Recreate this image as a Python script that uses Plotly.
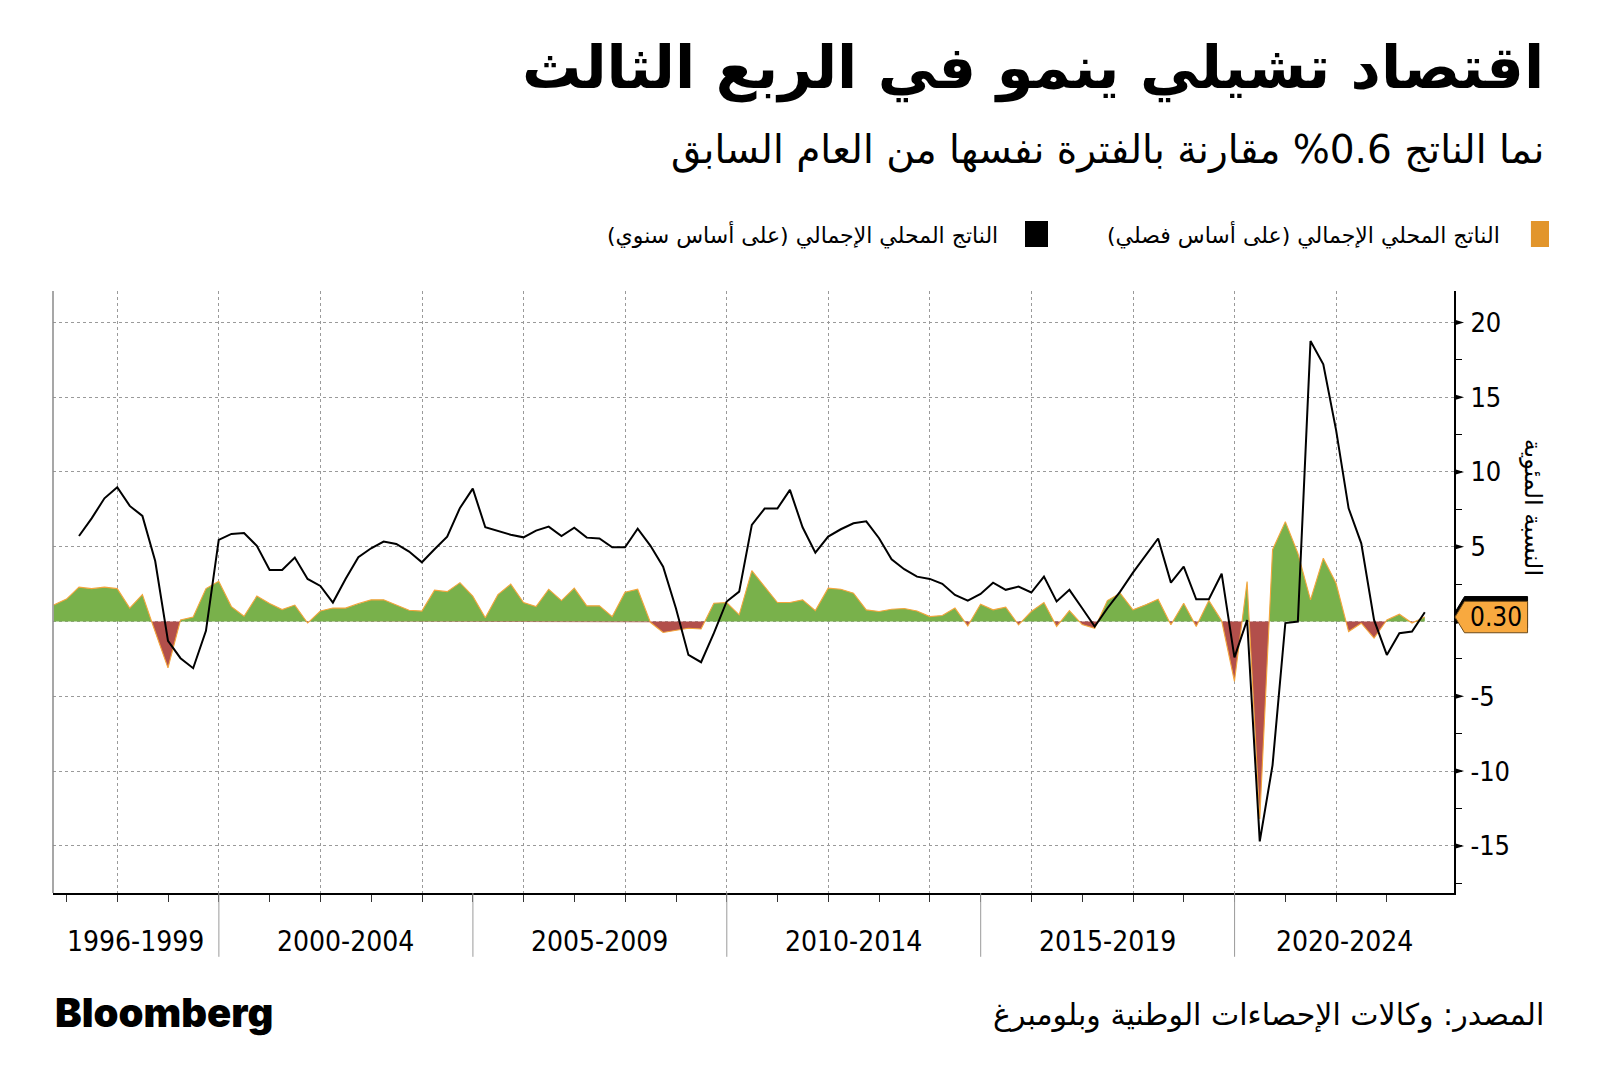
import numpy as np
import pandas as pd
import plotly.graph_objects as go

# ---------------- data ----------------
quarters = pd.period_range("1996Q3", "2023Q3", freq="Q")

qoq = [1.1, 1.5, 2.3, 2.2, 2.3, 2.2, 0.9, 1.8, -0.7, -3.1,
       0.1, 0.3, 2.2, 2.7, 1.0, 0.35, 1.7, 1.2, 0.8, 1.1,
       -0.1, 0.7, 0.9, 0.9, 1.2, 1.45, 1.45, 1.1, 0.75, 0.7,
       2.1, 2.0, 2.6, 1.7, 0.25, 1.8, 2.5, 1.27, 1.0, 2.16,
       1.4, 2.23, 1.05, 1.05, 0.33, 1.96, 2.16, -0.05, -0.73, -0.6,
       -0.45, -0.5, 1.22, 1.27, 0.45, 3.4, 2.34, 1.27, 1.27, 1.45,
       0.73, 2.23, 2.16, 1.9, 0.78, 0.67, 0.82, 0.87, 0.71, 0.33,
       0.4, 0.9, -0.3, 1.16, 0.78, 0.96, -0.22, 0.67, 1.27, -0.33,
       0.73, -0.2, -0.45, 1.4, 1.9, 0.78, 1.11, 1.49, -0.22, 1.22,
       -0.33, 1.4, 0.05, -4.0, 2.67, -13.2, 4.8, 6.68, 4.57, 1.45,
       4.23, 2.56, -0.67, -0.11, -1.1, 0.1, 0.49, -0.1, 0.3]

yoy = [None, None, 5.72, 6.9, 8.24, 8.98, 7.73, 7.06, 4.05, -1.29,
       -2.45, -3.12, -0.62, 5.46, 5.86, 5.92, 5.06, 3.45, 3.45, 4.28,
       2.85, 2.38, 1.27, 2.85, 4.3, 4.9, 5.35, 5.19, 4.68, 3.96,
       4.83, 5.68, 7.6, 8.89, 6.3, 6.05, 5.8, 5.63, 6.08, 6.35,
       5.72, 6.28, 5.61, 5.55, 4.97, 4.97, 6.21, 5.08, 3.67, 0.89,
       -2.23, -2.72, -0.78, 1.34, 2.0, 6.46, 7.55, 7.55, 8.8, 6.3,
       4.61, 5.68, 6.17, 6.57, 6.7, 5.57, 4.16, 3.5, 3.0, 2.85,
       2.52, 1.78, 1.4, 1.85, 2.6, 2.12, 2.34, 1.94, 3.0, 1.34,
       2.12, 0.89, -0.33, 0.89, 2.0, 3.27, 4.39, 5.55, 2.6, 3.67,
       1.49, 1.49, 3.2, -2.4, 0.1, -14.7, -9.6, -0.1, 0.0, 18.75,
       17.2, 12.8, 7.57, 5.23, 0.11, -2.23, -0.78, -0.67, 0.62]

group_labels = ["1996-1999", "2000-2004", "2005-2009", "2010-2014", "2015-2019", "2020-2024"]
group_start_years = [2000, 2005, 2010, 2015, 2020]
y_ticks = [-15, -10, -5, 0, 5, 10, 15, 20]
q_label = "0.30"

title = "اقتصاد تشيلي ينمو في الربع الثالث"
subtitle = "نما الناتج 0.6% مقارنة بالفترة نفسها من العام السابق"
legend_q = "الناتج المحلي الإجمالي (على أساس فصلي)"
legend_y = "الناتج المحلي الإجمالي (على أساس سنوي)"
y_title = "النسبة المئوية"
source = "المصدر: وكالات الإحصاءات الوطنية وبلومبرغ"
brand = "Bloomberg"

# ---------------- styles ----------------
GREEN = "#79b14b"
RED = "#b24f4b"
EDGE = "#f3a53c"
LABEL_ORANGE = "#f8a93f"
LEG_ORANGE = "#e2952b"
GRID = "#9a9a9a"
AR_FONT = "DejaVu Sans"
NUM_FONT = "DejaVu Sans Condensed, DejaVu Sans"


def rtl(s):
    return "\u202B" + s + "\u202C"


dates = quarters.to_timestamp(how="end").normalize()
x_start = pd.Timestamp("1996-09-25")
x_end = pd.Timestamp("2024-04-27")

# fill geometry: insert zero crossings so positive/negative parts fill cleanly
ax, ay = [], []
for k in range(len(qoq)):
    if k > 0 and qoq[k - 1] * qoq[k] < 0:
        f = qoq[k - 1] / (qoq[k - 1] - qoq[k])
        ax.append(dates[k - 1] + (dates[k] - dates[k - 1]) * f)
        ay.append(0.0)
    ax.append(dates[k])
    ay.append(qoq[k])
ay = np.array(ay)

fig = go.Figure()
fig.add_trace(go.Scatter(x=ax, y=np.maximum(ay, 0), mode="lines", fill="tozeroy",
                         fillcolor=GREEN, line=dict(width=0), hoverinfo="skip"))
fig.add_trace(go.Scatter(x=ax, y=np.minimum(ay, 0), mode="lines", fill="tozeroy",
                         fillcolor=RED, line=dict(width=0), hoverinfo="skip"))
fig.add_trace(go.Scatter(x=ax, y=ay, mode="lines", line=dict(color=EDGE, width=1.1),
                         hoverinfo="skip"))
fig.add_trace(go.Scatter(x=dates, y=yoy, mode="lines", line=dict(color="black", width=2),
                         connectgaps=False))

# axes
years = list(range(dates[0].year + 1, dates[-1].year + 1))
major_years = [pd.Timestamp(f"{y}-01-01") for y in years if y % 2 == 0]
minor_years = [pd.Timestamp(f"{y}-01-01") for y in years if y % 2 == 1]

fig.update_xaxes(type="date", range=[x_start, x_end], showline=True, linecolor="black",
                 linewidth=1.5, ticks="outside", tickmode="array", tickvals=major_years,
                 ticklen=7, tickcolor="#333", tickwidth=1, showticklabels=False,
                 showgrid=True, gridcolor=GRID, griddash="dot", gridwidth=1, zeroline=False,
                 minor=dict(tickmode="array", tickvals=minor_years, ticks="outside",
                            ticklen=7, tickcolor="#333", tickwidth=1, showgrid=False))

fig.update_yaxes(range=[-18.15, 22.1], side="right", showline=True, linecolor="black",
                 linewidth=2, ticks="outside", ticklen=9, tickwidth=1,
                 tickcolor="rgba(0,0,0,0)",
                 tickmode="array", tickvals=y_ticks,
                 ticktext=["" if v == 0 else str(v) for v in y_ticks],
                 tickfont=dict(family=NUM_FONT, size=27, color="black"),
                 showgrid=True, gridcolor=GRID, griddash="dot", gridwidth=1, zeroline=False,
                 minor=dict(dtick=2.5, ticks="outside", ticklen=6, tickwidth=1,
                            tickcolor="black", showgrid=False))

shapes = []
annots = []

# left border
shapes.append(dict(type="line", xref="paper", yref="paper", x0=0, x1=0, y0=0, y1=1,
                   line=dict(color="#8a8a8a", width=1.5)))

# triangular major tick marks on the right axis
tri_w, tri_h = 0.0072, 0.2
for v in y_ticks:
    shapes.append(dict(type="path", xref="paper", yref="y",
                       path=f"M 1,{v - tri_h} L {1 + tri_w},{v} L 1,{v + tri_h} Z",
                       fillcolor="black", line=dict(width=0), layer="above"))

# group separators and labels
bounds = [x_start] + [pd.Timestamp(f"{y}-01-01") for y in group_start_years] + [x_end]
for b in bounds[1:-1]:
    shapes.append(dict(type="line", xref="x", yref="paper", x0=b, x1=b, y0=0, y1=-0.106,
                       line=dict(color="#9a9a9a", width=1)))
for lab, a, b in zip(group_labels, bounds[:-1], bounds[1:]):
    annots.append(dict(x=a + (b - a) / 2, y=-0.081, xref="x", yref="paper", text=lab,
                       showarrow=False, xanchor="center", yanchor="middle",
                       font=dict(family=NUM_FONT, size=28, color="black")))

# last value labels (annual behind, quarterly in front)
last_y = [v for v in yoy if v is not None][-1]
last_q = qoq[-1]
tip, lft, rgt, half = 1.0007, 1.0075, 1.0525, 1.05
for val, col, edge in [(last_y, "black", "black"), (last_q, LABEL_ORANGE, "#6b4a1a")]:
    path = (f"M {tip},{val} L {lft},{val + half} L {rgt},{val + half} "
            f"L {rgt},{val - half} L {lft},{val - half} Z")
    shapes.append(dict(type="path", xref="paper", yref="y", path=path,
                       fillcolor=col, line=dict(width=1, color=edge), layer="above"))
annots.append(dict(x=(lft + rgt) / 2, y=last_q, xref="paper", yref="y", text=q_label,
                   showarrow=False, xanchor="center", yanchor="middle",
                   font=dict(family=NUM_FONT, size=26, color="black")))

# y-axis title
annots.append(dict(x=1.056, y=0.641, xref="paper", yref="paper", text=rtl(y_title),
                   textangle=90, showarrow=False, xanchor="center", yanchor="middle",
                   font=dict(family=AR_FONT, size=24, color="black")))

# title and subtitle
annots.append(dict(x=1.0657, y=1.370, xref="paper", yref="paper", text=rtl(title),
                   showarrow=False, xanchor="right", yanchor="middle",
                   font=dict(family=AR_FONT, size=59, color="black", weight="bold")))
annots.append(dict(x=1.0657, y=1.234, xref="paper", yref="paper", text=rtl(subtitle),
                   showarrow=False, xanchor="right", yanchor="middle",
                   font=dict(family=AR_FONT, size=39, color="black")))

# legend
shapes.append(dict(type="rect", xref="paper", yref="paper", x0=1.0549, x1=1.0678,
                   y0=1.0731, y1=1.1163, fillcolor=LEG_ORANGE, line=dict(width=0)))
shapes.append(dict(type="rect", xref="paper", yref="paper", x0=0.6938, x1=0.7102,
                   y0=1.0731, y1=1.1163, fillcolor="black", line=dict(width=0)))
annots.append(dict(x=1.0343, y=1.0925, xref="paper", yref="paper", text=rtl(legend_q),
                   showarrow=False, xanchor="right", yanchor="middle",
                   font=dict(family=AR_FONT, size=22, color="black")))
annots.append(dict(x=0.6759, y=1.0925, xref="paper", yref="paper", text=rtl(legend_y),
                   showarrow=False, xanchor="right", yanchor="middle",
                   font=dict(family=AR_FONT, size=22, color="black")))

# footer
annots.append(dict(x=0.0, y=-0.198, xref="paper", yref="paper", text=brand,
                   showarrow=False, xanchor="left", yanchor="middle",
                   font=dict(family="Inter", size=40, color="black", weight=900)))
annots.append(dict(x=1.0657, y=-0.203, xref="paper", yref="paper", text=rtl(source),
                   showarrow=False, xanchor="right", yanchor="middle",
                   font=dict(family=AR_FONT, size=30, color="black")))

# page body has an 8px margin: size the figure so the plot area lands where it should
fig.update_layout(width=1592, height=1081, margin=dict(l=45, r=146, t=283, b=196),
                  plot_bgcolor="white", paper_bgcolor="white", showlegend=False,
                  shapes=shapes, annotations=annots)

fig.write_html("out.html")
